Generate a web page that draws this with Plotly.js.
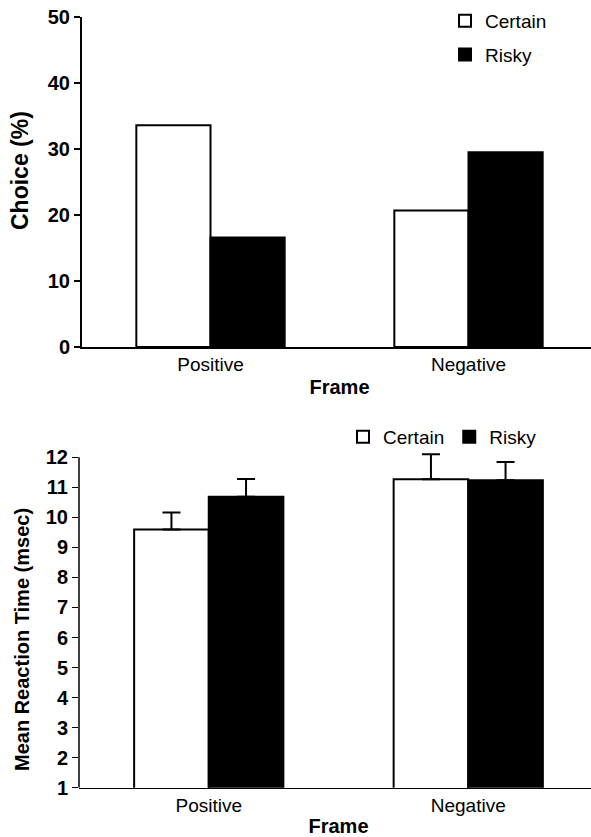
<!DOCTYPE html>
<html>
<head>
<meta charset="utf-8">
<script src="https://cdn.plot.ly/plotly-3.0.1.min.js"></script>
<style>
html,body{margin:0;padding:0;overflow:hidden;background:#fff;}
#chart{width:600px;height:837px;}
</style>
</head>
<body>
<div id="chart"></div>
<script>
var categories = ['Positive', 'Negative'];
var seriesNames = ['Certain', 'Risky'];
var choiceCertain = [33.6, 20.7];
var choiceRisky = [16.6, 29.5];
var rtCertain = [9.6, 11.27];
var rtRisky = [10.69, 11.24];
var rtCertainErr = [0.56, 0.83];
var rtRiskyErr = [0.59, 0.6];
var choiceTicks = [0, 10, 20, 30, 40, 50];
var rtTicks = [1, 2, 3, 4, 5, 6, 7, 8, 9, 10, 11, 12];
var xTitle = 'Frame';
var choiceTitle = 'Choice (%)';
var rtTitle = 'Mean Reaction Time (msec)';

var FONT = '"Liberation Sans", Arial, Helvetica, sans-serif';

var whiteBar = {color: '#ffffff', line: {color: '#000000', width: 2}};
var blackBar = {color: '#000000', line: {color: '#000000', width: 2}};

var traces = [
  {type: 'bar', x: categories, y: choiceCertain, name: seriesNames[0], marker: whiteBar,
   xaxis: 'x', yaxis: 'y', legend: 'legend', legendgroup: 'a'},
  {type: 'bar', x: categories, y: choiceRisky, name: seriesNames[1], marker: blackBar,
   xaxis: 'x', yaxis: 'y', legend: 'legend', legendgroup: 'b'},
  {type: 'bar', x: categories, y: rtCertain, name: seriesNames[0], marker: whiteBar,
   xaxis: 'x2', yaxis: 'y2', legend: 'legend2',
   error_y: {type: 'data', symmetric: false, array: rtCertainErr, arrayminus: [0, 0],
             color: '#000000', thickness: 2, width: 9}},
  {type: 'bar', x: categories, y: rtRisky, name: seriesNames[1], marker: blackBar,
   xaxis: 'x2', yaxis: 'y2', legend: 'legend2',
   error_y: {type: 'data', symmetric: false, array: rtRiskyErr, arrayminus: [0, 0],
             color: '#000000', thickness: 2, width: 9}}
];

var W = 600, H = 837;
function px(v){ return v / W; }
function py(v){ return 1 - v / H; }

var xCommon = {
  type: 'category', range: [-0.5, 1.5], showgrid: false, zeroline: false,
  showline: true, linecolor: '#000000', linewidth: 1.5, ticks: '',
  tickfont: {family: FONT, size: 19, color: '#000000'}, fixedrange: true
};
var yCommon = {
  showgrid: false, zeroline: false, linecolor: '#000000', linewidth: 1.5,
  ticks: 'outside', ticklen: 6, tickwidth: 1.5, tickcolor: '#000000',
  tickfont: {family: FONT, size: 20, color: '#000000', weight: 'bold'}, fixedrange: true
};

var layout = {
  width: W, height: H,
  margin: {l: 0, r: 0, t: 0, b: 0},
  paper_bgcolor: '#ffffff', plot_bgcolor: '#ffffff',
  font: {family: FONT, color: '#000000'},
  barmode: 'group', bargap: 0.425, bargroupgap: 0,
  xaxis: Object.assign({}, xCommon, {domain: [px(81.5), px(597.5)], anchor: 'y',
    title: {text: xTitle, font: {family: FONT, size: 20, weight: 'bold'}, standoff: 5}}),
  yaxis: Object.assign({}, yCommon, {domain: [py(347), py(17)], anchor: 'x', range: [0, 50],
    tickvals: choiceTicks, showline: true}),
  xaxis2: Object.assign({}, xCommon, {domain: [px(79), px(598)], anchor: 'y2',
    title: {text: xTitle, font: {family: FONT, size: 20, weight: 'bold'}, standoff: 8}}),
  yaxis2: Object.assign({}, yCommon, {domain: [py(787.7), py(448.3)], anchor: 'x2', range: [1, 12.3],
    tickvals: rtTicks, showline: false}),
  shapes: [
    {type: 'line', xref: 'x2 domain', yref: 'y2', x0: 0, x1: 0,
     y0: rtTicks[0], y1: rtTicks[rtTicks.length - 1],
     line: {color: '#000000', width: 1.5}}
  ],
  annotations: [
    {text: choiceTitle, xref: 'paper', yref: 'paper', x: px(20), y: py(171),
     xanchor: 'center', yanchor: 'middle', textangle: -90, showarrow: false,
     font: {family: FONT, size: 23, weight: 'bold', color: '#000000'}},
    {text: rtTitle, xref: 'paper', yref: 'paper', x: px(22), y: py(640),
     xanchor: 'center', yanchor: 'middle', textangle: -90, showarrow: false,
     font: {family: FONT, size: 20, weight: 'bold', color: '#000000'}}
  ],
  legend: {x: px(445), y: py(2), xanchor: 'left', yanchor: 'top', orientation: 'v',
    traceorder: 'grouped', tracegroupgap: 6, bgcolor: 'rgba(0,0,0,0)',
    font: {family: FONT, size: 19, color: '#000000'}},
  legend2: {x: px(343), y: py(418), xanchor: 'left', yanchor: 'top', orientation: 'h',
    bgcolor: 'rgba(0,0,0,0)', font: {family: FONT, size: 19, color: '#000000'}},
  showlegend: true
};

Plotly.newPlot('chart', traces, layout, {displayModeBar: false, staticPlot: true});
</script>
</body>
</html>
